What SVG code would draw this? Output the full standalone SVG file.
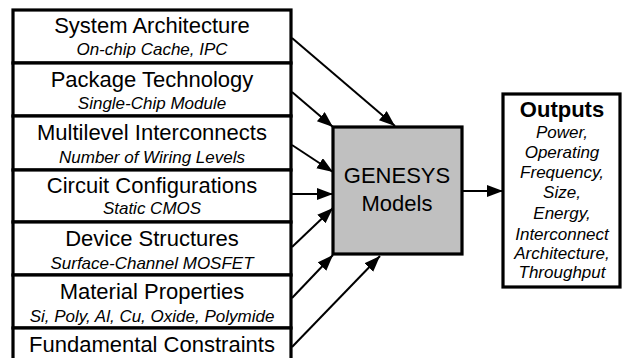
<svg xmlns="http://www.w3.org/2000/svg" width="622" height="358" viewBox="0 0 622 358">
<style>
.box{fill:#fff;stroke:#000;stroke-width:3.2}
.t{font-family:"Liberation Sans",Arial,sans-serif;font-size:22px;text-anchor:middle;fill:#000}
.s{font-family:"Liberation Sans",Arial,sans-serif;font-size:17px;font-style:italic;text-anchor:middle;fill:#000}
.c{stroke:#000;stroke-width:2;fill:none;marker-end:url(#ah)}
</style>
<defs>
<marker id="ah" markerUnits="userSpaceOnUse" markerWidth="18" markerHeight="14" refX="16" refY="6" orient="auto">
<path d="M0,0 L16,6 L0,12 z" fill="#000"/>
</marker>
</defs>
<rect width="622" height="358" fill="#fff"/>
<g id="connectors">
<line class="c" x1="292" y1="38" x2="395" y2="126"/>
<line class="c" x1="292" y1="92" x2="333" y2="127"/>
<line class="c" x1="292" y1="145" x2="333" y2="172"/>
<line class="c" x1="292" y1="194" x2="333" y2="194"/>
<line class="c" x1="292" y1="247" x2="333" y2="208"/>
<line class="c" x1="292" y1="298" x2="333" y2="255"/>
<line class="c" x1="292" y1="347" x2="380" y2="256"/>
<line class="c" x1="462" y1="191" x2="503" y2="191"/>
</g>
<g id="system-architecture">
<rect class="box" x="13" y="10" width="278" height="53"/>
<text class="t" x="152" y="33">System Architecture</text>
<text class="s" x="152" y="55">On-chip Cache, IPC</text>
</g>
<g id="package-technology">
<rect class="box" x="13" y="63" width="278" height="53"/>
<text class="t" x="152" y="87">Package Technology</text>
<text class="s" x="152" y="109">Single-Chip Module</text>
</g>
<g id="multilevel-interconnects">
<rect class="box" x="13" y="116" width="278" height="54"/>
<text class="t" x="152" y="140">Multilevel Interconnects</text>
<text class="s" x="152" y="163">Number of Wiring Levels</text>
</g>
<g id="circuit-configurations">
<rect class="box" x="13" y="170" width="278" height="52"/>
<text class="t" x="152" y="193">Circuit Configurations</text>
<text class="s" x="152" y="214">Static CMOS</text>
</g>
<g id="device-structures">
<rect class="box" x="13" y="222" width="278" height="53"/>
<text class="t" x="152" y="246">Device Structures</text>
<text class="s" x="152" y="269">Surface-Channel MOSFET</text>
</g>
<g id="material-properties">
<rect class="box" x="13" y="275" width="278" height="53"/>
<text class="t" x="152" y="299">Material Properties</text>
<text class="s" x="152" y="322">Si, Poly, Al, Cu, Oxide, Polymide</text>
</g>
<g id="fundamental-constraints">
<rect class="box" x="13" y="328" width="278" height="40"/>
<text class="t" x="152" y="352">Fundamental Constraints</text>
</g>
<g id="genesys">
<rect x="333" y="127" width="129" height="127" fill="#c0c0c0" stroke="#000" stroke-width="3.2"/>
<text class="t" x="397" y="183">GENESYS</text>
<text class="t" x="397" y="211">Models</text>
</g>
<g id="outputs">
<rect class="box" x="503" y="94" width="117" height="193"/>
<text class="t" x="562" y="117" font-weight="bold">Outputs</text>
<text class="s" x="562" y="138">Power,</text>
<text class="s" x="562" y="158">Operating</text>
<text class="s" x="562" y="178">Frequency,</text>
<text class="s" x="562" y="198">Size,</text>
<text class="s" x="562" y="219">Energy,</text>
<text class="s" x="562" y="240">Interconnect</text>
<text class="s" x="562" y="259">Architecture,</text>
<text class="s" x="562" y="278">Throughput</text>
</g>
</svg>
